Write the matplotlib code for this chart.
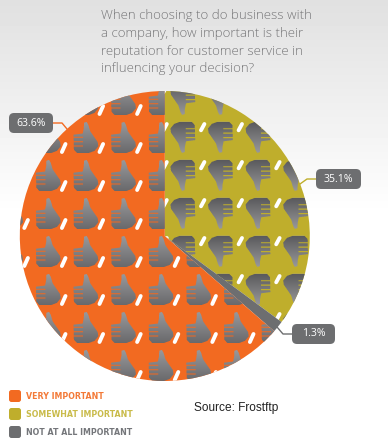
import numpy as np
import matplotlib
matplotlib.use("Agg")
import matplotlib.pyplot as plt
from matplotlib.path import Path
from matplotlib.patches import FancyBboxPatch

W, H = 388, 446
title_lines = ["When choosing to do business with", "a company, how important is their",
               "reputation for customer service in", "influencing your decision?"]
categories = ["SOMEWHAT IMPORTANT", "NOT AT ALL IMPORTANT", "VERY IMPORTANT"]
values = [35.1, 1.3, 63.6]
value_labels = ["35.1%", "1.3%", "63.6%"]
colors = ["#bfae2c", "#6d6e70", "#f26a21"]
legend_text_colors = ["#c9bb4a", "#74767a", "#f37a38"]
legend_order = [2, 0, 1]
source = "Source: Frostftp"

CX, CY, R = 164.8, 236.0, 145.0

fig = plt.figure(figsize=(W / 100, H / 100), dpi=100)

# background + overlay axes in pixel coordinates
bg = fig.add_axes([0, 0, 1, 1])
bg.axis("off")
grad = np.clip(1 - np.linspace(0, H, 446)[:, None] / 215, 0, 1)
bg.imshow(1 - 0.12 * grad, cmap="gray", vmin=0, vmax=1, extent=[0, W, H, 0], aspect="auto", zorder=0)
bg.set_xlim(0, W); bg.set_ylim(H, 0)

# pie
pa = fig.add_axes([(CX - R) / W, 1 - (CY + R) / H, 2 * R / W, 2 * R / H])
wedges, _ = pa.pie(values, colors=colors, startangle=90, counterclock=False, radius=1,
                   wedgeprops=dict(linewidth=0))
pa.set_xlim(-1, 1); pa.set_ylim(-1, 1); pa.axis("off")
pa.patch.set_alpha(0)

ov = fig.add_axes([0, 0, 1, 1])
ov.axis("off"); ov.patch.set_alpha(0)

# thumb glyph, pixel units from the tile corner, y down
thumb = np.array([[10.5, 1], [13.2, 0.2], [14.8, 3], [16.8, 9.6], [20.2, 14.6], [24.2, 20.3], [24.8, 24.6],
                  [21.0, 29.2], [15.0, 31.4], [3.6, 31.4], [0.4, 28], [0.0, 13.0], [9.2, 11.8], [10.3, 6.3]])
stripes = [15.5, 20.0, 24.3]
SS = 4
Wss, Hss = W * SS, H * SS
gy, gx = np.mgrid[0:Hss, 0:Wss]
pts_x = (gx + .5) / SS
pts_y = (gy + .5) / SS
dx, dy = 37.6, 38.0


def texture(x0, y0, flip):
    tx = (pts_x - x0) % dx
    ty = (pts_y - y0) % dy
    if flip:
        lx, ly = 24.8 - tx, 31.4 - ty
    else:
        lx, ly = tx, ty
    mask = Path(thumb).contains_points(np.c_[lx.ravel(), ly.ravel()]).reshape(lx.shape)
    for s in stripes:
        mask &= ~((np.abs(ly - s) < 0.55) & (lx < 9.5))
    m = mask.astype(float).reshape(H, SS, W, SS).mean(axis=(1, 3))
    ty1 = np.clip(((np.arange(H) + .5 - y0) % dy) / 31.5, 0, 1)
    c_top, c_bot = (0.60, 0.41) if not flip else (0.35, 0.60)
    g = c_top + (c_bot - c_top) * ty1
    rgba = np.zeros((H, W, 4))
    rgba[..., 0] = g[:, None]
    rgba[..., 1] = g[:, None]
    rgba[..., 2] = g[:, None] + 0.01
    rgba[..., 3] = m
    return rgba


def paint(wedge, x0, y0, flip, slash):
    im = ov.imshow(texture(x0, y0, flip), extent=[0, W, H, 0], aspect="auto", zorder=2, interpolation="nearest")
    im.set_clip_path(wedge)
    for i in range(-1, 11):
        for j in range(-1, 10):
            xs = x0 + i * dx
            ys = y0 + j * dy
            ln, = ov.plot([xs + slash[0], xs + slash[2]], [ys + slash[1], ys + slash[3]], color="white",
                          lw=2.8, solid_capstyle="round", zorder=3)
            ln.set_clip_path(wedge)


paint(wedges[2], 35.9 - dx, 121.7 - 2 * dy, False, (29.6, 22.3, 26.0, 30.3))
paint(wedges[0], 208.0 - 2 * dx, 121.7 - 2 * dy, True, (-3.6, 2.3, -7.0, 8.6))
ov.set_xlim(0, W); ov.set_ylim(H, 0)

# title
for k, line in enumerate(title_lines):
    ov.text(101, 15.5 + k * 17.8, line, family="Open Sans", weight="light", fontsize=9.5, color="#767678",
            va="center", ha="left")


# callouts
def callout(x0, y0, x1, y1, label, leader, col):
    ov.plot(*zip(*leader), color=col, lw=1.0, zorder=4, solid_joinstyle="round")
    ov.add_patch(FancyBboxPatch((x0 + 4, y0 + 4), x1 - x0 - 8, y1 - y0 - 8, boxstyle="round,pad=4,rounding_size=5",
                                fc="#6d6e70", ec="none", zorder=5))
    ov.text((x0 + x1) / 2, (y0 + y1) / 2, label, color="white", fontsize=7.6, family="Open Sans",
            ha="center", va="center", zorder=6)


callout(9, 113, 53, 133, value_labels[2], [(53, 123), (62, 123), (67, 129)], colors[2])
callout(316, 169, 361, 189, value_labels[0], [(316, 179), (307, 179), (300, 184)], colors[0])
callout(292, 324, 335, 344, value_labels[1], [(277, 327), (283, 334), (292, 334)], colors[1])

# legend
for n, idx in enumerate(legend_order):
    y = 396 + n * 18
    ov.add_patch(FancyBboxPatch((11, y - 4), 8, 8, boxstyle="round,pad=2,rounding_size=2.5", fc=colors[idx], ec="none", zorder=5))
    ov.text(26, y + 0.3, categories[idx], color=legend_text_colors[idx], fontsize=5.7, family="DejaVu Sans",
            weight="bold", va="center", ha="left")

ov.text(194, 408, source, family="Liberation Sans", fontsize=8.6, color="#222222", va="center", ha="left")

fig.savefig("out.png", dpi=100)
